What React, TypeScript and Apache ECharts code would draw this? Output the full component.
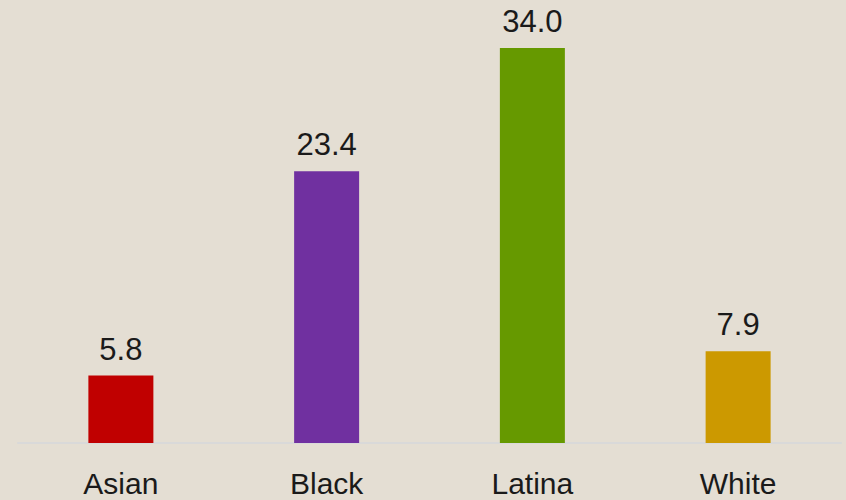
import React, { useEffect, useRef } from "react";
import * as echarts from "echarts";

const categories = ["Asian", "Black", "Latina", "White"];
const values = [5.8, 23.4, 34.0, 7.9];
const colors = ["#C00000", "#7030A0", "#669900", "#CC9900"];

export default function App() {
  const ref = useRef<HTMLDivElement>(null);
  useEffect(() => {
    if (!ref.current) return;
    const chart = echarts.init(ref.current, null, { renderer: "svg" });
    chart.setOption({
      animation: false,
      backgroundColor: "#E4DED3",
      grid: {
        left: 18,
        right: 5,
        top: 48,
        bottom: 57,
        containLabel: false,
        outerBoundsMode: "none",
      },
      xAxis: {
        type: "category",
        data: categories,
        axisLine: { show: true, lineStyle: { color: "#D9D9D9", width: 2 } },
        axisTick: { show: false },
        axisLabel: {
          color: "#1A1A1A",
          fontFamily: "Liberation Sans",
          fontSize: 30,
          lineHeight: 24,
          margin: 28,
        },
      },
      yAxis: {
        type: "value",
        min: 0,
        max: 34,
        show: false,
        splitLine: { show: false },
      },
      series: [
        {
          type: "bar",
          barWidth: 65,
          data: values.map((v, i) => ({ value: v, itemStyle: { color: colors[i] } })),
          label: {
            show: true,
            position: "top",
            distance: 11,
            color: "#1A1A1A",
            fontFamily: "Liberation Sans",
            fontSize: 31,
            formatter: (p: any) => Number(p.value).toFixed(1),
          },
        },
      ],
    });
    return () => chart.dispose();
  }, []);
  return (
    <div
      ref={ref}
      style={{ position: "fixed", left: 0, top: 0, width: 846, height: 500 }}
    />
  );
}
